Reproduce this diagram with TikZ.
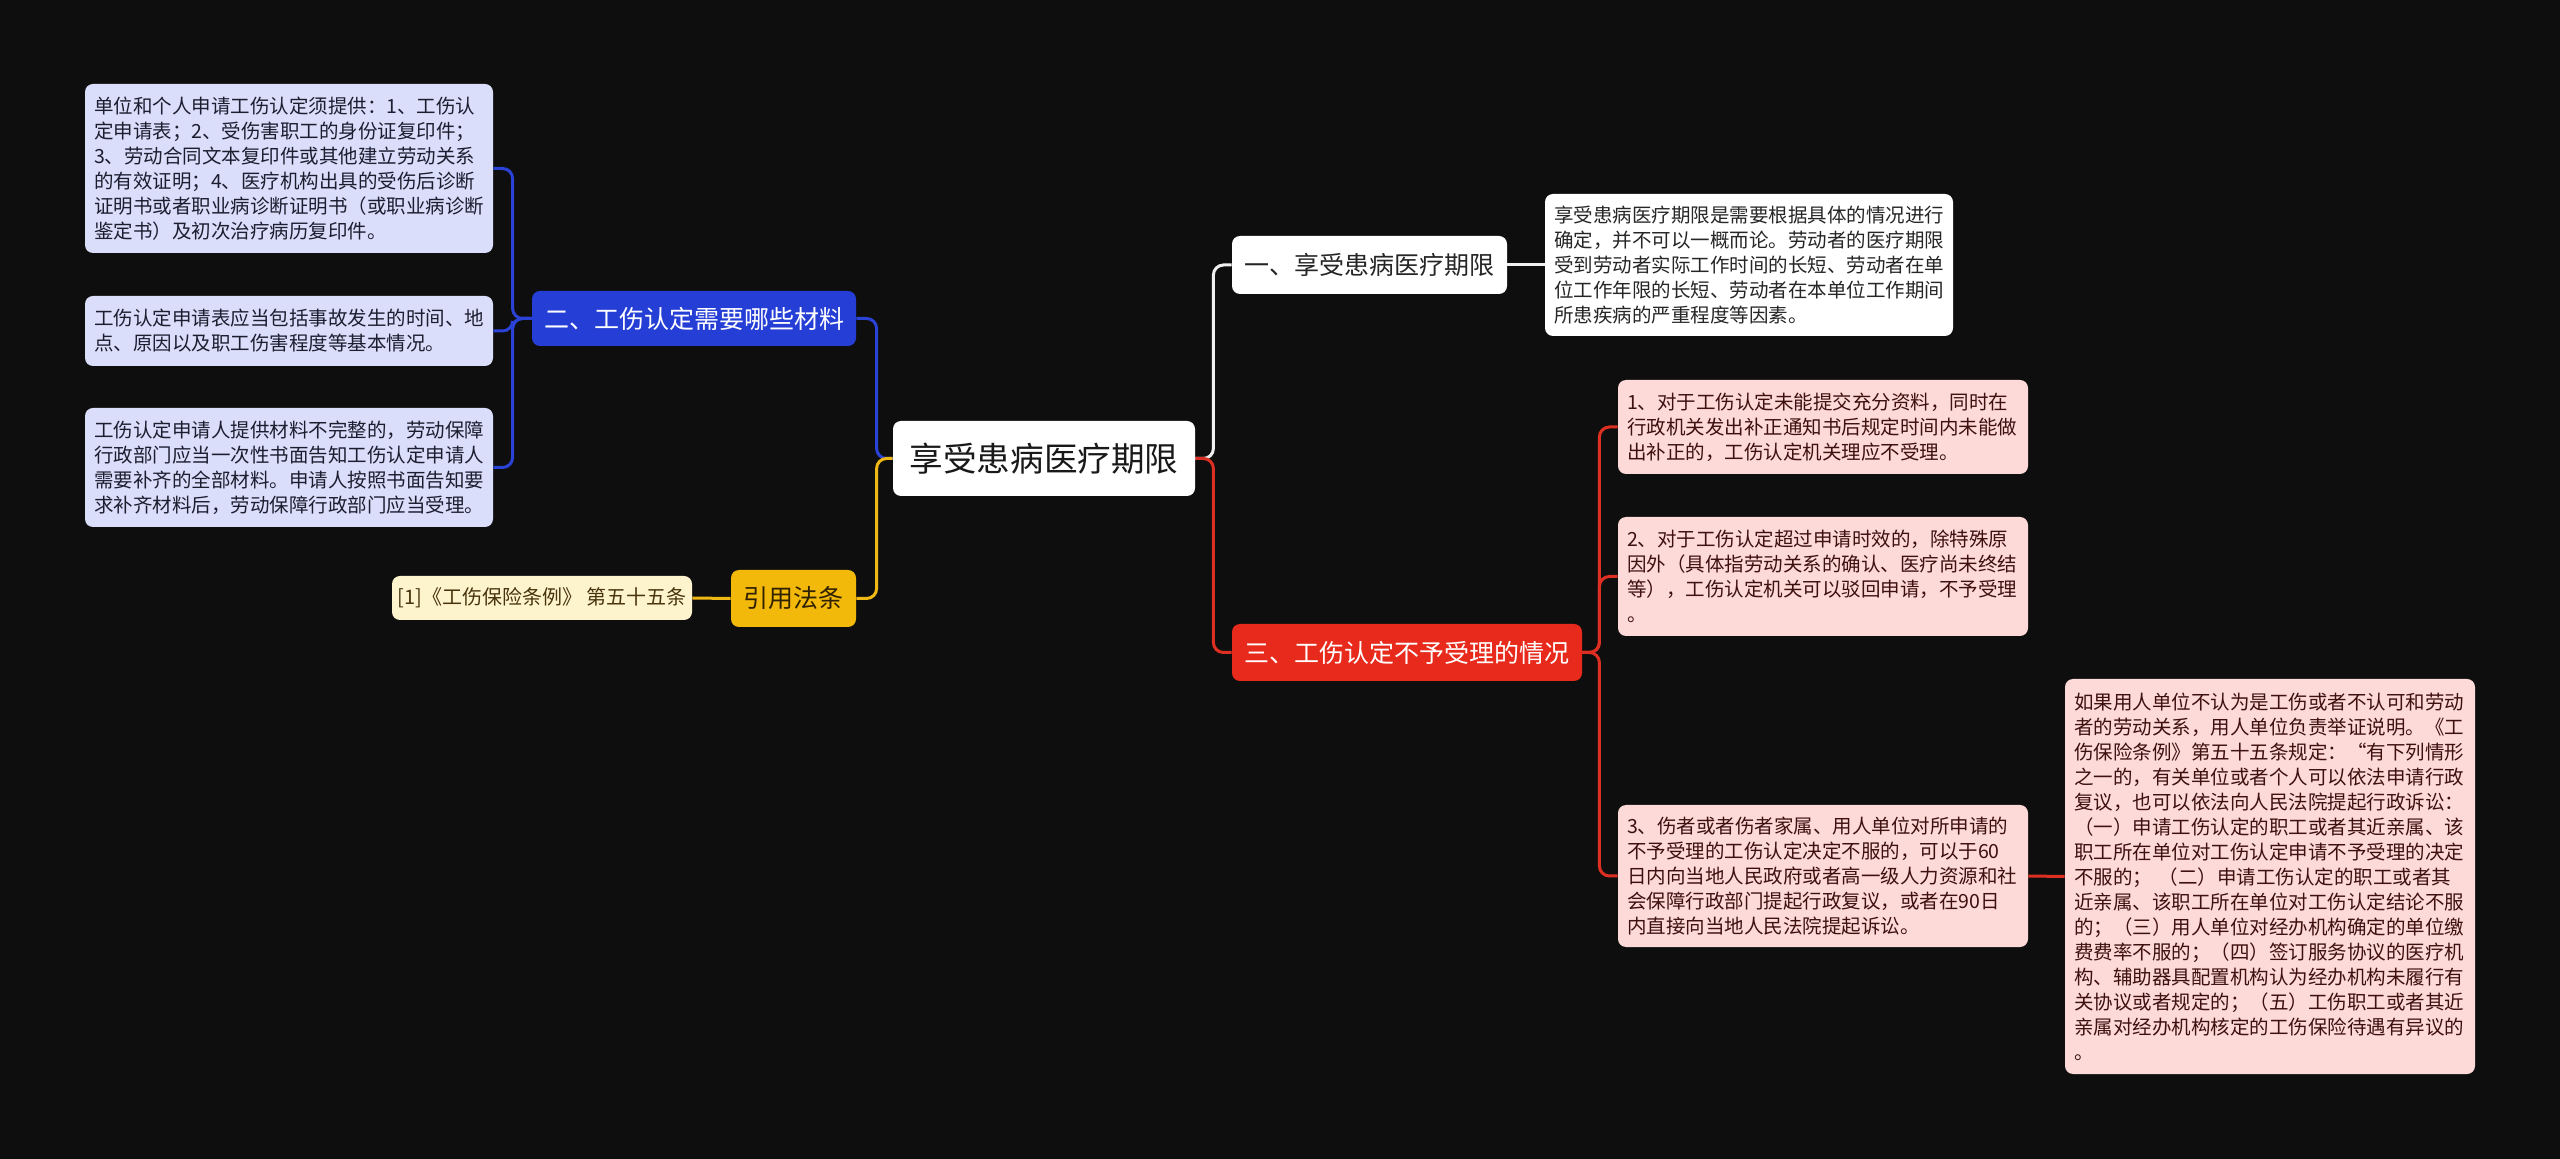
\documentclass[tikz,border=0pt]{standalone}
\usepackage{fontspec}
\setmainfont{Noto Sans CJK SC}
\usepackage{xcolor}
\usepackage{tikz}
\definecolor{bgdark}{RGB}{14,14,14}
\definecolor{lavfill}{RGB}{219,222,250}
\definecolor{lavink}{RGB}{28,30,48}
\definecolor{topicblue}{RGB}{36,62,214}
\definecolor{topicred}{RGB}{232,42,28}
\definecolor{topicgold}{RGB}{242,185,10}
\definecolor{pinkfill}{RGB}{253,218,215}
\definecolor{pinkink}{RGB}{62,16,16}
\definecolor{creamfill}{RGB}{253,244,206}
\definecolor{creamink}{RGB}{72,52,12}
\definecolor{goldink}{RGB}{48,34,0}
\definecolor{lineblue}{RGB}{42,66,214}
\definecolor{linered}{RGB}{222,48,34}
\definecolor{linegold}{RGB}{240,184,20}
\tikzset{
  box/.style={rounded corners=4pt, align=center, inner sep=0pt},
  notebox/.style={box, align=left, text width=195pt, inner xsep=4.5pt,
                  font=\fontsize{9.75pt}{12.5pt}\selectfont},
  lavbox/.style={notebox, fill=lavfill, text=lavink},
  pinkbox/.style={notebox, fill=pinkfill, text=pinkink, text width=196pt},
  whitebox/.style={notebox, fill=white, text=black!85},
  topic/.style={box, font=\fontsize{12.5pt}{15pt}\selectfont, minimum height=28.5pt},
  whitetopic/.style={topic, fill=white, text=black!85},
  bluetopic/.style={topic, fill=topicblue, text=white},
  redtopic/.style={topic, fill=topicred, text=white},
  goldtopic/.style={topic, fill=topicgold, text=goldink},
  creambox/.style={box, fill=creamfill, text=creamink, font=\fontsize{10pt}{12pt}\selectfont},
  rootbox/.style={box, fill=white, text=black!90, font=\fontsize{16.8pt}{20pt}\selectfont},
  link/.style={line width=1.5pt, rounded corners=5pt},
  whiteline/.style={link, draw=white!94!black},
  redline/.style={link, draw=linered},
  blueline/.style={link, draw=lineblue},
  goldline/.style={link, draw=linegold},
}
\begin{document}
\begin{tikzpicture}[x=0.5pt, y=-0.5pt]
  \useasboundingbox (0,0) rectangle (2560,1159);
  \fill[bgdark] (0,0) rectangle (2560,1159);

  \node[rootbox, minimum width=151pt, minimum height=37.5pt] (root) at (1044,458.5) {享受患病医疗期限};

  \node[whitetopic, minimum width=137.5pt, minimum height=29pt] (t1) at (1369.5,265) {一、享受患病医疗期限};
  \node[bluetopic, minimum width=162pt, minimum height=27.5pt] (t2) at (694,318.5) {二、工伤认定需要哪些材料};
  \node[redtopic, minimum width=175pt] (t3) at (1407,652.5) {三、工伤认定不予受理的情况};
  \node[goldtopic, minimum width=62.5pt] (t4) at (793.5,598.5) {引用法条};

  \node[whitebox, minimum height=71pt] (a1) at (1749,265) {享受患病医疗期限是需要根据具体的情况进行\\确定，并不可以一概而论。劳动者的医疗期限\\受到劳动者实际工作时间的长短、劳动者在单\\位工作年限的长短、劳动者在本单位工作期间\\所患疾病的严重程度等因素。};

  \node[lavbox, minimum height=84.5pt] (b1) at (289,168.5) {单位和个人申请工伤认定须提供：1、工伤认\\定申请表；2、受伤害职工的身份证复印件；\\3、劳动合同文本复印件或其他建立劳动关系\\的有效证明；4、医疗机构出具的受伤后诊断\\证明书或者职业病诊断证明书（或职业病诊断\\鉴定书）及初次治疗病历复印件。};
  \node[lavbox, minimum height=35pt] (b2) at (289,331) {工伤认定申请表应当包括事故发生的时间、地\\点、原因以及职工伤害程度等基本情况。};
  \node[lavbox, minimum height=59.5pt] (b3) at (289,467.5) {工伤认定申请人提供材料不完整的，劳动保障\\行政部门应当一次性书面告知工伤认定申请人\\需要补齐的全部材料。申请人按照书面告知要\\求补齐材料后，劳动保障行政部门应当受理。};

  \node[pinkbox, minimum height=47pt] (c1) at (1823,427) {1、对于工伤认定未能提交充分资料，同时在\\行政机关发出补正通知书后规定时间内未能做\\出补正的，工伤认定机关理应不受理。};
  \node[pinkbox, minimum height=59.5pt] (c2) at (1823,576.5) {2、对于工伤认定超过申请时效的，除特殊原\\因外（具体指劳动关系的确认、医疗尚未终结\\等），工伤认定机关可以驳回申请，不予受理\\。};
  \node[pinkbox, minimum height=71pt] (c3) at (1823,876) {3、伤者或者伤者家属、用人单位对所申请的\\不予受理的工伤认定决定不服的，可以于60\\日内向当地人民政府或者高一级人力资源和社\\会保障行政部门提起行政复议，或者在90日\\内直接向当地人民法院提起诉讼。};
  \node[pinkbox, minimum height=197.5pt] (c4) at (2270,876.5) {如果用人单位不认为是工伤或者不认可和劳动\\者的劳动关系，用人单位负责举证说明。《工\\伤保险条例》第五十五条规定：“有下列情形\\之一的，有关单位或者个人可以依法申请行政\\复议，也可以依法向人民法院提起行政诉讼：\\（一）申请工伤认定的职工或者其近亲属、该\\职工所在单位对工伤认定申请不予受理的决定\\不服的； （二）申请工伤认定的职工或者其\\近亲属、该职工所在单位对工伤认定结论不服\\的；（三）用人单位对经办机构确定的单位缴\\费费率不服的；（四）签订服务协议的医疗机\\构、辅助器具配置机构认为经办机构未履行有\\关协议或者规定的；（五）工伤职工或者其近\\亲属对经办机构核定的工伤保险待遇有异议的\\。};

  \node[creambox, minimum width=150pt, minimum height=22pt] (d1) at (542,598) {[1]《工伤保险条例》 第五十五条};

  \draw[whiteline] (root.east) -- ++(18,0) |- (t1.west);
  \draw[redline] (root.east) -- ++(18,0) |- (t3.west);
  \draw[blueline] (root.west) -- ++(-16,0) |- (t2.east);
  \draw[goldline] (root.west) -- ++(-16,0) |- (t4.east);

  \draw[whiteline] (t1.east) -- (a1.west);
  \draw[blueline] (t2.west) -- ++(-19,0) |- (b1.east);
  \draw[blueline] (t2.west) -- ++(-19,0) |- (b2.east);
  \draw[blueline] (t2.west) -- ++(-19,0) |- (b3.east);
  \draw[redline] (t3.east) -- ++(17,0) |- (c1.west);
  \draw[redline] (t3.east) -- ++(17,0) |- (c2.west);
  \draw[redline] (t3.east) -- ++(17,0) |- (c3.west);
  \draw[redline] (c3.east) -- (c4.west);
  \draw[goldline] (t4.west) -- (d1.east);
\end{tikzpicture}
\end{document}
